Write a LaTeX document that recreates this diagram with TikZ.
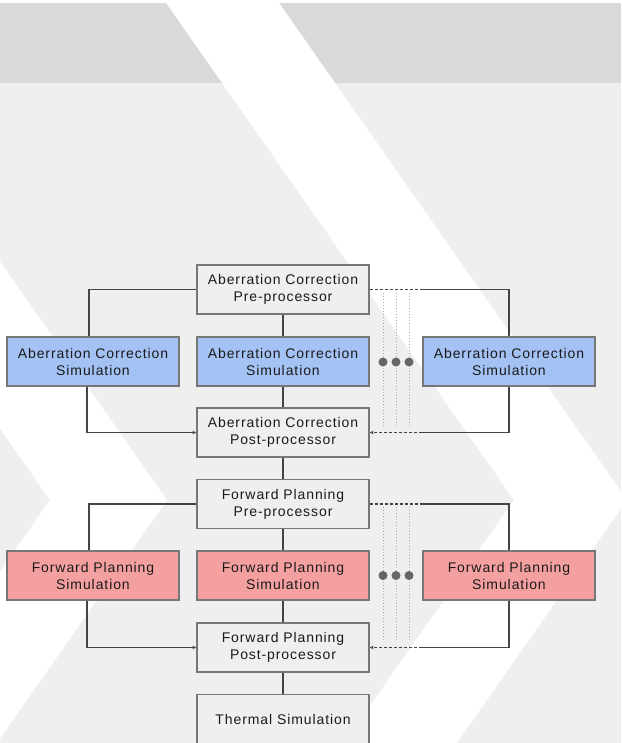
\documentclass[tikz,border=0pt]{standalone}
\usepackage{fontspec}
\setmainfont{Liberation Sans}[LetterSpace=6.5]
\usetikzlibrary{arrows.meta,calc}

\definecolor{bandgray}{HTML}{D9D9D9}
\definecolor{pagegray}{HTML}{EFEFEF}
\definecolor{boxline}{HTML}{777777}
\definecolor{wire}{HTML}{444444}
\definecolor{dotgray}{HTML}{666666}
\definecolor{acblue}{HTML}{A4C2F4}
\definecolor{fpred}{HTML}{F5A0A0}
\definecolor{txt}{HTML}{1A1A1A}

\tikzset{
  block/.style={draw=boxline, line width=1.4pt, minimum width=172pt, minimum height=49pt,
    align=center, text=txt, font=\fontsize{14}{17}\selectfont, inner sep=0pt},
  plainbox/.style={block, fill=pagegray},
  acbox/.style={block, fill=acblue},
  fpbox/.style={block, fill=fpred},
  wireline/.style={draw=wire, line width=1.2pt},
  tip/.style={-{Stealth[length=4pt,width=3.5pt]}},
  dashline/.style={wireline, dash pattern=on 3pt off 2pt},
  dotline/.style={draw=gray!70, line width=0.8pt, dash pattern=on 1pt off 2pt},
  moredot/.style={fill=dotgray}
}

\begin{document}
\begin{tikzpicture}[x=1pt,y=-1pt]
  \useasboundingbox (0,0) rectangle (621,743);

  % backdrop: page, title band and white chevrons
  \begin{scope}
    \clip (0,0) rectangle (621,743);
    \fill[white] (0,0) rectangle (621,743);
    \fill[pagegray] (0,3) rectangle (621,743);
    \fill[bandgray] (0,3) rectangle (621,83);
    \fill[white] (164,0) -- (277,0) -- (627,500) -- (452,750) -- (339,750) -- (514,500) -- cycle;
    \fill[white] (-70,161.4) -- (167,500) -- (-70,838.6) -- (-70,671.4) -- (50,500) -- (-70,328.6) -- cycle;
  \end{scope}

  % aberration correction stage
  \node[plainbox] (acpre)  at (283,289.5) {Aberration Correction\\Pre-processor};
  \node[acbox]    (acsl)   at (93,361.5)  {Aberration Correction\\Simulation};
  \node[acbox]    (acsc)   at (283,361.5) {Aberration Correction\\Simulation};
  \node[acbox]    (acsr)   at (509,361.5) {Aberration Correction\\Simulation};
  \node[plainbox] (acpost) at (283,432.5) {Aberration Correction\\Post-processor};

  % forward planning stage
  \node[plainbox] (fppre)  at (283,504)   {Forward Planning\\Pre-processor};
  \node[fpbox]    (fpsl)   at (93,575.5)  {Forward Planning\\Simulation};
  \node[fpbox]    (fpsc)   at (283,575.5) {Forward Planning\\Simulation};
  \node[fpbox]    (fpsr)   at (509,575.5) {Forward Planning\\Simulation};
  \node[plainbox] (fppost) at (283,647.5) {Forward Planning\\Post-processor};

  \node[plainbox] (therm)  at (283,719)   {Thermal Simulation};

  % trunk
  \draw[wireline] (acpre) -- (acsc);
  \draw[wireline] (acsc) -- (acpost);
  \draw[wireline] (acpost) -- (fppre);
  \draw[wireline] (fppre) -- (fpsc);
  \draw[wireline] (fpsc) -- (fppost);
  \draw[wireline] (fppost) -- (therm);

  % left branches
  \draw[wireline] (acpre.west) -| ([xshift=-4pt]acsl.north);
  \draw[wireline,tip] ([xshift=-6pt]acsl.south) |- (acpost.west);
  \draw[wireline] (fppre.west) -| ([xshift=-4pt]fpsl.north);
  \draw[wireline,tip] ([xshift=-6pt]fpsl.south) |- (fppost.west);

  % right branches
  \draw[dashline] (acpre.east) -- (acpre.east -| acsr.west);
  \draw[wireline] (acpre.east -| acsr.west) -| (acsr.north);
  \draw[wireline] (acsr.south) |- (acpost.east -| acsr.west);
  \draw[dashline,tip] (acpost.east -| acsr.west) -- (acpost.east);

  \draw[dashline] (fppre.east) -- (fppre.east -| fpsr.west);
  \draw[wireline] (fppre.east -| fpsr.west) -| (fpsr.north);
  \draw[wireline] (fpsr.south) |- (fppost.east -| fpsr.west);
  \draw[dashline,tip] (fppost.east -| fpsr.west) -- (fppost.east);

  % further parallel simulations
  \foreach \x in {383,396,409} {
    \draw[dotline] (\x,293) -- (\x,426);
    \fill[moredot] (\x,362) circle (4.5pt);
    \draw[dotline] (\x,507) -- (\x,641);
    \fill[moredot] (\x,575.5) circle (4.5pt);
  }
\end{tikzpicture}
\end{document}
